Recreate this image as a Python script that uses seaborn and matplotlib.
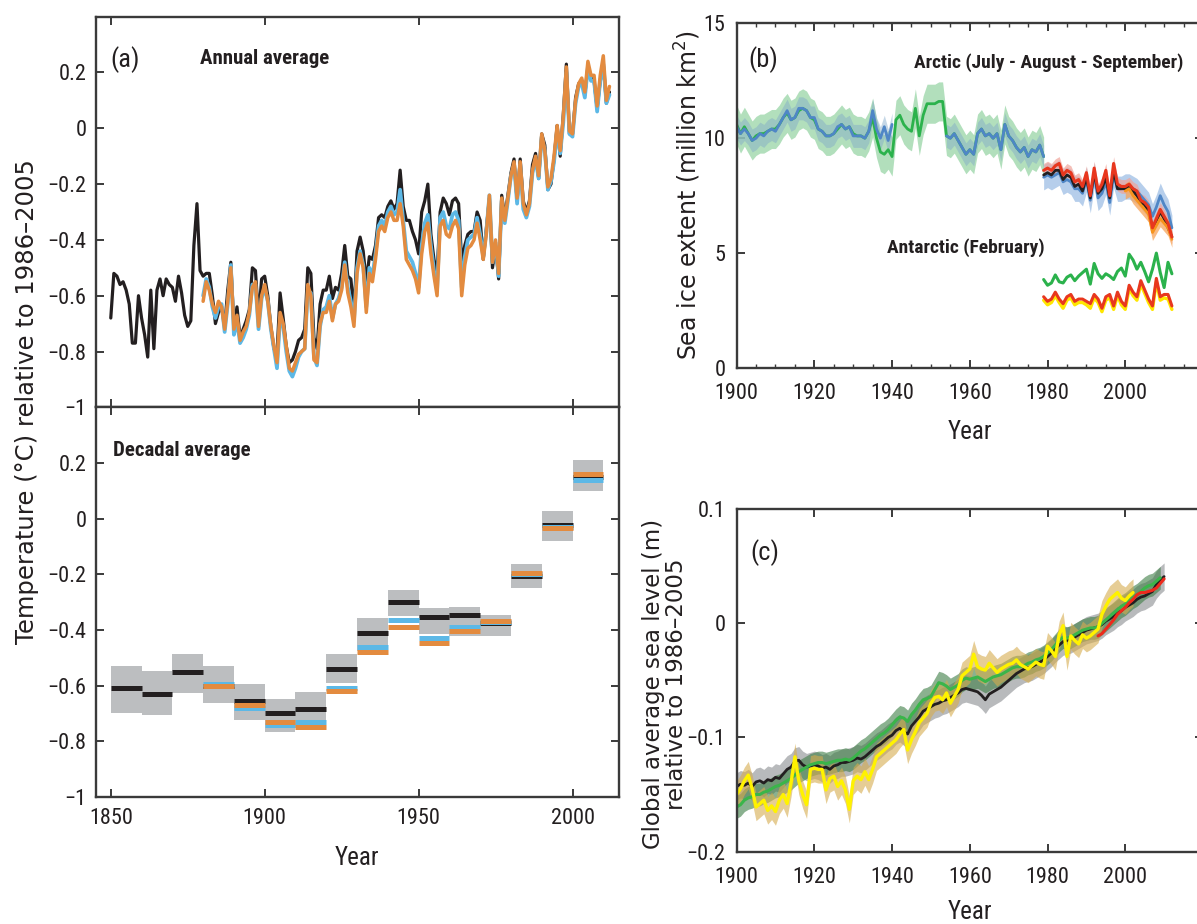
import numpy as np
import matplotlib
matplotlib.use("Agg")
import matplotlib.pyplot as plt
import seaborn as sns
from matplotlib import font_manager
from matplotlib.ticker import FuncFormatter, MultipleLocator

# ---- (a) annual temperature anomaly, degC relative to 1986-2005 ----
hadcrut_start = 1850
hadcrut = [
    -0.68, -0.52, -0.53, -0.56, -0.55, -0.58, -0.63, -0.77, -0.77, -0.60,
    -0.68, -0.74, -0.82, -0.58, -0.79, -0.58, -0.54, -0.60, -0.54, -0.56,
    -0.57, -0.62, -0.53, -0.59, -0.67, -0.71, -0.69, -0.42, -0.27, -0.51,
    -0.53, -0.52, -0.52, -0.60, -0.70, -0.66, -0.64, -0.71, -0.58, -0.48,
    -0.71, -0.64, -0.75, -0.72, -0.69, -0.65, -0.50, -0.51, -0.68, -0.54,
    -0.53, -0.60, -0.71, -0.79, -0.81, -0.59, -0.68, -0.78, -0.84, -0.83,
    -0.80, -0.76, -0.75, -0.72, -0.50, -0.52, -0.75, -0.79, -0.63, -0.58,
    -0.58, -0.53, -0.61, -0.57, -0.58, -0.52, -0.42, -0.53, -0.54, -0.66,
    -0.44, -0.39, -0.44, -0.55, -0.46, -0.47, -0.42, -0.32, -0.31, -0.32,
    -0.28, -0.26, -0.29, -0.27, -0.15, -0.28, -0.33, -0.33, -0.37, -0.40,
    -0.45, -0.30, -0.26, -0.20, -0.38, -0.47, -0.52, -0.30, -0.25, -0.27,
    -0.31, -0.26, -0.25, -0.27, -0.48, -0.42, -0.38, -0.37, -0.37, -0.30,
    -0.33, -0.47, -0.36, -0.25, -0.50, -0.42, -0.54, -0.24, -0.32, -0.24,
    -0.16, -0.11, -0.26, -0.11, -0.26, -0.30, -0.26, -0.13, -0.09, -0.18,
    -0.02, -0.06, -0.22, -0.20, -0.11, 0.01, -0.10, 0.05, 0.23, -0.02,
    -0.02, 0.11, 0.16, 0.17, 0.12, 0.22, 0.18, 0.17, 0.07, 0.17,
    0.23, 0.09, 0.13,
]
mlost_start = 1880
mlost = [
    -0.62, -0.55, -0.58, -0.63, -0.66, -0.62, -0.64, -0.72, -0.62, -0.50,
    -0.72, -0.67, -0.76, -0.73, -0.71, -0.66, -0.57, -0.55, -0.71, -0.60,
    -0.56, -0.62, -0.71, -0.78, -0.84, -0.66, -0.70, -0.78, -0.86, -0.87,
    -0.84, -0.81, -0.80, -0.79, -0.56, -0.60, -0.83, -0.84, -0.70, -0.66,
    -0.66, -0.62, -0.69, -0.63, -0.62, -0.58, -0.49, -0.59, -0.64, -0.71,
    -0.52, -0.45, -0.50, -0.66, -0.52, -0.55, -0.47, -0.37, -0.35, -0.37,
    -0.32, -0.30, -0.33, -0.33, -0.27, -0.35, -0.47, -0.49, -0.51, -0.54,
    -0.59, -0.45, -0.37, -0.34, -0.45, -0.53, -0.60, -0.35, -0.33, -0.38,
    -0.39, -0.35, -0.33, -0.36, -0.60, -0.49, -0.43, -0.42, -0.40, -0.34,
    -0.40, -0.47, -0.38, -0.24, -0.48, -0.40, -0.52, -0.25, -0.33, -0.25,
    -0.17, -0.12, -0.25, -0.12, -0.27, -0.31, -0.27, -0.15, -0.10, -0.17,
    -0.02, -0.08, -0.21, -0.18, -0.10, 0.01, -0.08, 0.04, 0.22, -0.01,
    -0.02, 0.10, 0.16, 0.18, 0.13, 0.24, 0.19, 0.19, 0.08, 0.19,
    0.26, 0.10, 0.15,
]
giss_start = 1880
giss = [
    -0.60, -0.54, -0.57, -0.64, -0.68, -0.64, -0.63, -0.73, -0.63, -0.49,
    -0.74, -0.69, -0.77, -0.75, -0.72, -0.67, -0.56, -0.56, -0.72, -0.61,
    -0.57, -0.62, -0.72, -0.79, -0.86, -0.68, -0.71, -0.80, -0.87, -0.89,
    -0.86, -0.82, -0.80, -0.79, -0.58, -0.59, -0.82, -0.85, -0.71, -0.65,
    -0.64, -0.60, -0.68, -0.63, -0.61, -0.57, -0.48, -0.57, -0.62, -0.69,
    -0.50, -0.44, -0.49, -0.64, -0.50, -0.53, -0.45, -0.35, -0.33, -0.35,
    -0.30, -0.28, -0.31, -0.30, -0.22, -0.33, -0.44, -0.46, -0.48, -0.52,
    -0.57, -0.42, -0.34, -0.31, -0.42, -0.51, -0.58, -0.32, -0.30, -0.35,
    -0.36, -0.31, -0.30, -0.33, -0.57, -0.46, -0.40, -0.39, -0.38, -0.32,
    -0.38, -0.46, -0.37, -0.24, -0.48, -0.41, -0.53, -0.26, -0.34, -0.26,
    -0.17, -0.13, -0.27, -0.13, -0.29, -0.32, -0.28, -0.16, -0.11, -0.18,
    -0.03, -0.08, -0.22, -0.19, -0.12, -0.01, -0.09, 0.02, 0.20, -0.02,
    -0.03, 0.09, 0.15, 0.16, 0.11, 0.22, 0.17, 0.17, 0.06, 0.17,
    0.23, 0.09, 0.12,
]

# ---- (a) decadal averages ----
dec_start = [1850, 1860, 1870, 1880, 1890, 1900, 1910, 1920,
             1930, 1940, 1950, 1960, 1970, 1980, 1990, 2000]
dec_black = [-0.61, -0.63, -0.55, -0.60, -0.655, -0.70, -0.685, -0.54,
             -0.41, -0.30, -0.355, -0.345, -0.375, -0.205, -0.023, 0.15]
dec_blue = [None, None, None, -0.595, -0.68, -0.74, -0.73, -0.607,
            -0.46, -0.365, -0.43, -0.39, -0.37, -0.20, -0.03, 0.14]
dec_orange = [None, None, None, -0.60, -0.67, -0.73, -0.747, -0.62,
              -0.48, -0.39, -0.445, -0.405, -0.367, -0.197, -0.034, 0.161]
dec_low = [-0.698, -0.707, -0.627, -0.662, -0.724, -0.767, -0.752, -0.591,
           -0.475, -0.35, -0.415, -0.42, -0.42, -0.25, -0.079, 0.10]
dec_high = [-0.531, -0.549, -0.486, -0.531, -0.594, -0.647, -0.621, -0.487,
            -0.356, -0.258, -0.32, -0.318, -0.345, -0.164, 0.026, 0.21]

# ---- (b) sea ice extent, million km2 ----
arctic_green_start = 1900
arctic_green = [
    10.6, 10.2, 10.5, 10.2, 9.9, 10.1, 10.2, 10.2, 10.3, 10.4,
    10.4, 10.6, 10.9, 11.1, 10.8, 10.9, 11.2, 11.3, 11.2, 10.9,
    10.8, 10.4, 10.3, 10.1, 10.1, 10.2, 10.4, 10.6, 10.4, 10.5,
    10.2, 10.1, 10.1, 10.0, 10.3, 10.9, 10.0, 9.4, 9.3, 9.5,
    9.2, 10.8, 11.0, 10.6, 10.4, 10.3, 11.3, 10.1, 11.0, 11.5,
    11.5, 11.5, 11.6, 11.6, 10.1, 10.0, 10.2, 9.9, 9.6, 9.3,
    9.5, 9.3, 10.2, 10.4, 10.1, 10.2, 10.0, 10.2, 9.5, 10.6,
    10.1, 9.9, 9.6, 9.4, 9.6, 9.2, 9.5, 9.4, 9.7, 9.2,
]
arctic_blue_early_start = 1900
arctic_blue_early = [
    10.5, 10.2, 10.4, 10.2, 9.9, 10.0, 10.2, 10.1, 10.3, 10.4,
    10.3, 10.6, 10.9, 11.2, 10.8, 10.9, 11.3, 11.3, 11.2, 10.9,
    10.9, 10.4, 10.3, 10.1, 10.1, 10.2, 10.5, 10.6, 10.4, 10.5,
    10.1, 10.1, 10.1, 10.0, 10.3, 11.2, 10.4, 10.0, 10.5, 9.9,
    10.6,
]
arctic_blue_late_start = 1954
arctic_blue_late = [
    10.1, 10.0, 10.2, 9.9, 9.6, 9.3, 9.5, 9.3, 10.2, 10.4,
    10.1, 10.2, 10.0, 10.2, 9.5, 10.6, 10.1, 9.9, 9.6, 9.4,
    9.6, 9.2, 9.5, 9.4, 9.7, 9.2,
]
sat_start = 1979
arctic_red = [
    8.6, 8.7, 8.6, 8.8, 8.9, 8.4, 8.6, 8.5, 8.1, 8.2,
    7.9, 8.5, 7.5, 8.7, 7.7, 8.0, 8.6, 7.5, 8.9, 8.0,
    7.9, 7.9, 8.0, 7.8, 7.7, 7.3, 7.2, 7.0, 6.1, 6.5,
    6.9, 6.6, 6.3, 5.7,
]
arctic_black = [
    8.4, 8.5, 8.4, 8.6, 8.6, 8.2, 8.4, 8.3, 7.9, 8.0,
    7.7, 8.3, 7.4, 8.5, 7.6, 7.8, 8.3, 7.4, 8.6, 7.8,
    7.8, 7.8, 7.9, 7.7, 7.5, 7.2, 7.1, 6.8, 6.1, 6.4,
    6.8, 6.5, 6.1, 5.7,
]
arctic_blue_sat = [
    8.3, 8.4, 8.3, 8.4, 8.5, 8.1, 8.2, 8.1, 7.8, 7.8,
    7.6, 8.2, 7.3, 8.4, 7.4, 7.6, 8.1, 7.2, 8.4, 7.8,
    7.8, 7.9, 7.9, 7.8, 7.7, 7.5, 7.3, 7.1, 6.6, 7.0,
    7.5, 7.1, 6.8, 6.1,
]
arctic_orange_start = 2000
arctic_orange = [7.7, 7.8, 7.5, 7.3, 7.1, 6.9, 6.7, 5.9, 6.2, 6.5, 6.3, 6.1, 5.6]
antarctic_green = [
    3.85, 3.6, 3.7, 4.05, 3.75, 3.7, 3.95, 4.05, 3.8, 4.0,
    4.15, 4.3, 3.65, 4.55, 4.1, 3.9, 4.1, 4.0, 3.85, 4.2,
    4.35, 4.0, 4.95, 4.7, 4.3, 4.6, 4.2, 3.75, 4.3, 5.0,
    4.15, 3.5, 4.6, 4.1,
]
antarctic_red = [
    3.1, 2.9, 3.0, 3.3, 3.0, 2.8, 3.1, 3.2, 2.9, 3.0,
    3.0, 2.9, 2.8, 3.2, 3.0, 2.6, 3.1, 3.2, 2.7, 3.3,
    2.9, 2.7, 3.6, 3.3, 3.1, 3.8, 3.4, 3.0, 2.7, 3.9,
    3.1, 3.2, 3.2, 2.7,
]
antarctic_yellow = [
    2.95, 2.75, 2.85, 3.15, 2.85, 2.6, 2.95, 3.05, 2.75, 2.85,
    2.85, 2.75, 2.6, 3.05, 2.85, 2.45, 2.95, 3.05, 2.55, 3.15,
    2.75, 2.55, 3.45, 3.15, 2.95, 3.65, 3.25, 2.85, 2.55, 3.75,
    2.95, 3.05, 3.0, 2.55,
]
arctic_unc_green = 0.85
arctic_unc_blue = 0.5
arctic_unc_red = 0.3
arctic_unc_blue_sat = 0.55
arctic_unc_orange = 0.35

# ---- (c) global mean sea level, m relative to 1986-2005 ----
sl_start = 1900
sl_black = [
    -0.143, -0.141, -0.142, -0.140, -0.143, -0.139, -0.138, -0.140, -0.137, -0.138,
    -0.135, -0.136, -0.132, -0.128, -0.126, -0.121, -0.120, -0.124, -0.126, -0.125,
    -0.124, -0.125, -0.127, -0.126, -0.128, -0.125, -0.124, -0.122, -0.122, -0.121,
    -0.120, -0.118, -0.119, -0.117, -0.114, -0.111, -0.108, -0.106, -0.103, -0.100,
    -0.098, -0.094, -0.092, -0.095, -0.097, -0.090, -0.086, -0.082, -0.077, -0.075,
    -0.073, -0.071, -0.070, -0.068, -0.067, -0.065, -0.063, -0.061, -0.058, -0.057,
    -0.058, -0.059, -0.060, -0.063, -0.067, -0.062, -0.060, -0.058, -0.056, -0.053,
    -0.050, -0.047, -0.044, -0.042, -0.040, -0.039, -0.038, -0.036, -0.034, -0.032,
    -0.029, -0.026, -0.022, -0.019, -0.016, -0.015, -0.014, -0.012, -0.010, -0.008,
    -0.006, -0.005, -0.004, -0.003, -0.001, 0.002, 0.004, 0.006, 0.009, 0.011,
    0.014, 0.016, 0.018, 0.021, 0.023, 0.024, 0.026, 0.028, 0.034, 0.038,
    0.041,
]
sl_green = [
    -0.161, -0.159, -0.155, -0.153, -0.152, -0.150, -0.150, -0.148, -0.147, -0.145,
    -0.143, -0.142, -0.140, -0.138, -0.136, -0.133, -0.130, -0.128, -0.126, -0.124,
    -0.123, -0.122, -0.122, -0.123, -0.122, -0.121, -0.120, -0.120, -0.119, -0.120,
    -0.118, -0.115, -0.112, -0.110, -0.107, -0.104, -0.101, -0.098, -0.096, -0.093,
    -0.089, -0.085, -0.082, -0.083, -0.086, -0.080, -0.076, -0.071, -0.067, -0.066,
    -0.064, -0.058, -0.052, -0.053, -0.055, -0.058, -0.056, -0.054, -0.050, -0.048,
    -0.049, -0.048, -0.047, -0.049, -0.051, -0.049, -0.047, -0.046, -0.045, -0.043,
    -0.041, -0.039, -0.038, -0.038, -0.037, -0.035, -0.034, -0.032, -0.031, -0.029,
    -0.026, -0.023, -0.019, -0.015, -0.012, -0.013, -0.012, -0.010, -0.008, -0.006,
    -0.005, -0.004, -0.004, -0.003, 0.000, 0.003, 0.006, 0.009, 0.012, 0.015,
    0.017, 0.020, 0.023, 0.025, 0.028, 0.031, 0.033, 0.034, 0.037, 0.040,
]
sl_yellow = [
    -0.150, -0.145, -0.138, -0.133, -0.145, -0.161, -0.158, -0.155, -0.164, -0.160,
    -0.165, -0.155, -0.150, -0.158, -0.140, -0.117, -0.138, -0.150, -0.159, -0.128,
    -0.127, -0.128, -0.128, -0.146, -0.136, -0.134, -0.143, -0.138, -0.146, -0.163,
    -0.138, -0.134, -0.137, -0.130, -0.137, -0.128, -0.117, -0.114, -0.111, -0.108,
    -0.105, -0.102, -0.097, -0.093, -0.111, -0.102, -0.095, -0.087, -0.083, -0.079,
    -0.070, -0.065, -0.064, -0.067, -0.061, -0.070, -0.064, -0.058, -0.046, -0.043,
    -0.040, -0.027, -0.038, -0.040, -0.041, -0.035, -0.039, -0.043, -0.040, -0.038,
    -0.036, -0.035, -0.032, -0.036, -0.038, -0.040, -0.037, -0.034, -0.036, -0.037,
    -0.020, -0.024, -0.029, -0.010, -0.002, -0.029, -0.011, -0.015, -0.018, -0.010,
    -0.013, -0.011, -0.008, -0.005, 0.008, 0.015, 0.021, 0.024, 0.027, 0.022,
    0.020, 0.024, 0.027,
]
sl_red_start = 1993
sl_red = [-0.011, -0.009, -0.005, -0.001, 0.003, 0.008, 0.011, 0.014, 0.018,
          0.021, 0.025, 0.027, 0.027, 0.028, 0.029, 0.031, 0.035, 0.039]
sl_unc_black = 0.012
sl_unc_green = 0.010
sl_unc_yellow = 0.012


def years(start, values):
    return np.arange(start, start + len(values))


def minus_fmt(v, pos):
    if abs(v) < 1e-9:
        return "0"
    return f"{v:g}".replace("-", "\u2212")


sns.set_style("ticks")
installed = set(font_manager.get_font_names())
narrow = next((f for f in ["Liberation Sans Narrow", "Roboto Condensed",
                           "DejaVu Sans Condensed", "Open Sans Condensed"]
               if f in installed), "Liberation Sans")
plt.rcParams["font.family"] = [narrow, "DejaVu Sans"]
plt.rcParams["axes.unicode_minus"] = True
wide = ["DejaVu Sans"]
INK = "#231f20"
SPINE = "#3a3a3a"

W, H = 1197, 924
fig = plt.figure(figsize=(W / 100, H / 100), dpi=100)


def box(x0, y0, x1, y1):
    # pixel box (top-left origin) -> figure fraction rect
    return [x0 / W, 1 - y1 / H, (x1 - x0) / W, (y1 - y0) / H]


def style(ax, xpad=7, ypad=7):
    ax.tick_params(which="both", direction="in", top=True, right=True,
                   color=SPINE, labelcolor=INK, labelsize=16)
    ax.tick_params(which="major", length=6, width=1.4)
    ax.tick_params(axis="x", which="major", pad=xpad)
    ax.tick_params(axis="y", which="major", pad=ypad)
    ax.tick_params(which="minor", length=3, width=1.0)
    for s in ax.spines.values():
        s.set_linewidth(1.7)
        s.set_color(SPINE)
    ax.yaxis.set_major_formatter(FuncFormatter(minus_fmt))
    ax.set_xlabel("")
    ax.set_ylabel("")


ax_a = fig.add_axes(box(96, 16.7, 619, 407.3))
ax_d = fig.add_axes(box(96, 407.3, 619, 797))
ax_b = fig.add_axes(box(736.6, 23.3, 1203, 368))
ax_c = fig.add_axes(box(736.6, 509.3, 1203, 851.5))

# (a) annual
sns.lineplot(x=years(hadcrut_start, hadcrut), y=hadcrut, ax=ax_a,
             color=INK, linewidth=2.3, estimator=None)
sns.lineplot(x=years(giss_start, giss), y=giss, ax=ax_a,
             color="#5cb8e6", linewidth=2.7, estimator=None)
sns.lineplot(x=years(mlost_start, mlost), y=mlost, ax=ax_a,
             color="#e38b3f", linewidth=2.5, estimator=None)

# (a) decadal
dstart = np.array(dec_start)
lo = np.array(dec_low)
hi = np.array(dec_high)
ax_d.bar(dstart, hi - lo, bottom=lo, width=10, align="edge",
         color="#bcbec0", edgecolor="none")
for vals, col in [(dec_black, INK), (dec_blue, "#5cb8e6"), (dec_orange, "#e38b3f")]:
    for x0, v in zip(dec_start, vals):
        if v is not None:
            ax_d.hlines(v, x0, x0 + 10, colors=col, linewidth=3.6)

for ax in (ax_a, ax_d):
    style(ax, xpad=8)
    ax.set_xlim(1845.2, 2015.1)
    ax.set_ylim(-1, 0.4)
    ax.set_xticks([1850, 1900, 1950, 2000])
    ax.set_yticks([-1, -0.8, -0.6, -0.4, -0.2, 0, 0.2])
ax_a.tick_params(labelbottom=False)

# (b) sea ice
yg = years(arctic_green_start, arctic_green)
g = np.array(arctic_green)
ax_b.fill_between(yg, g - arctic_unc_green, g + arctic_unc_green,
                  color="#9fd8ac", alpha=0.8, linewidth=0)
for st, vals in [(arctic_blue_early_start, arctic_blue_early),
                 (arctic_blue_late_start, arctic_blue_late)]:
    yy = years(st, vals)
    v = np.array(vals)
    ax_b.fill_between(yy, v - arctic_unc_blue, v + arctic_unc_blue,
                      color="#7fa8c9", alpha=0.45, linewidth=0)
ys = years(sat_start, arctic_red)
bs = np.array(arctic_blue_sat)
rs = np.array(arctic_red)
ax_b.fill_between(ys, bs - arctic_unc_blue_sat, bs + arctic_unc_blue_sat,
                  color="#a9c6e8", alpha=0.85, linewidth=0)
ax_b.fill_between(ys, rs - arctic_unc_red, rs + arctic_unc_red,
                  color="#f0a49a", alpha=0.7, linewidth=0)
yo = years(arctic_orange_start, arctic_orange)
ov = np.array(arctic_orange)
ax_b.fill_between(yo, ov - arctic_unc_orange, ov + arctic_unc_orange,
                  color="#f8a45a", alpha=0.75, linewidth=0)

sns.lineplot(x=yg, y=arctic_green, ax=ax_b, color="#2bb24c", linewidth=2.0, estimator=None)
sns.lineplot(x=years(arctic_blue_early_start, arctic_blue_early), y=arctic_blue_early,
             ax=ax_b, color="#4f86c6", linewidth=2.0, estimator=None)
sns.lineplot(x=years(arctic_blue_late_start, arctic_blue_late), y=arctic_blue_late,
             ax=ax_b, color="#4f86c6", linewidth=2.0, estimator=None)
sns.lineplot(x=ys, y=arctic_blue_sat, ax=ax_b, color="#4f86c6", linewidth=2.0, estimator=None)
sns.lineplot(x=ys, y=arctic_black, ax=ax_b, color=INK, linewidth=2.0, estimator=None)
sns.lineplot(x=yo, y=arctic_orange, ax=ax_b, color="#f7941d", linewidth=2.0, estimator=None)
sns.lineplot(x=ys, y=arctic_red, ax=ax_b, color="#e8371e", linewidth=2.2, estimator=None)

sns.lineplot(x=ys, y=antarctic_green, ax=ax_b, color="#2bb24c", linewidth=2.2, estimator=None)
sns.lineplot(x=ys, y=antarctic_yellow, ax=ax_b, color="#ffe600", linewidth=2.4, estimator=None)
sns.lineplot(x=ys, y=antarctic_red, ax=ax_b, color="#e8371e", linewidth=2.2, estimator=None)

style(ax_b, xpad=11, ypad=8)
ax_b.set_xlim(1900, 2020)
ax_b.set_ylim(0, 15)
ax_b.set_xticks([1900, 1920, 1940, 1960, 1980, 2000])
ax_b.xaxis.set_minor_locator(MultipleLocator(5))
ax_b.set_yticks([0, 5, 10, 15])

# (c) sea level
yb = years(sl_start, sl_black)
ygr = years(sl_start, sl_green)
yy = years(sl_start, sl_yellow)
b = np.array(sl_black)
gr = np.array(sl_green)
yl = np.array(sl_yellow)
ax_c.fill_between(yb, b - sl_unc_black, b + sl_unc_black,
                  color="#a7a9ac", alpha=0.8, linewidth=0)
ax_c.fill_between(ygr, gr - sl_unc_green, gr + sl_unc_green,
                  color="#3d7d45", alpha=0.6, linewidth=0)
ax_c.fill_between(yy, yl - sl_unc_yellow, yl + sl_unc_yellow,
                  color="#d6ac4e", alpha=0.6, linewidth=0)
sns.lineplot(x=yb, y=sl_black, ax=ax_c, color=INK, linewidth=2.0, estimator=None)
sns.lineplot(x=ygr, y=sl_green, ax=ax_c, color="#3ab54a", linewidth=2.2, estimator=None)
sns.lineplot(x=yy, y=sl_yellow, ax=ax_c, color="#fff200", linewidth=2.4, estimator=None)
sns.lineplot(x=years(sl_red_start, sl_red), y=sl_red, ax=ax_c,
             color="#ed2a1c", linewidth=2.2, estimator=None)

style(ax_c, xpad=11, ypad=8)
ax_c.set_xlim(1900, 2020)
ax_c.set_ylim(-0.2, 0.1)
ax_c.set_xticks([1900, 1920, 1940, 1960, 1980, 2000])
ax_c.set_yticks([-0.2, -0.1, 0, 0.1])


def ftext(x, y, s, **kw):
    fig.text(x / W, 1 - y / H, s, **kw)


# panel tags and annotations
ftext(110, 60, "(a)", ha="left", va="center", fontsize=19, color=INK)
ftext(200, 58, "Annual average", ha="left", va="center", fontsize=15,
      fontweight="bold", color=INK)
ftext(113, 450, "Decadal average", ha="left", va="center", fontsize=15,
      fontweight="bold", color=INK)
ftext(748, 60, "(b)", ha="left", va="center", fontsize=19, color=INK)
ftext(914, 63, "Arctic (July - August - September)", ha="left", va="center",
      fontsize=14, fontweight="bold", color=INK)
ftext(887, 248, "Antarctic (February)", ha="left", va="center",
      fontsize=14, fontweight="bold", color=INK)
ftext(750, 553, "(c)", ha="left", va="center", fontsize=19, color=INK)

# axis titles
ftext(357, 858, "Year", ha="center", va="center", fontsize=18, color=INK)
ftext(970, 432, "Year", ha="center", va="center", fontsize=18, color=INK)
ftext(970, 912, "Year", ha="center", va="center", fontsize=18, color=INK)
ftext(27, 402, "Temperature (\u00b0C) relative to 1986\u20132005", ha="center",
      va="center", rotation=90, fontsize=17.5, family=wide, color=INK)
ftext(688, 195, "Sea ice extent (million km$^2$)", ha="center", va="center",
      rotation=90, fontsize=17, family=wide, color=INK)
ftext(665, 684, "Global average sea level (m)\nrelative to 1986\u20132005",
      ha="center", va="center", rotation=90, fontsize=16.5, family=wide,
      color=INK, linespacing=1.0, multialignment="center")

fig.savefig("out.png", dpi=100)
